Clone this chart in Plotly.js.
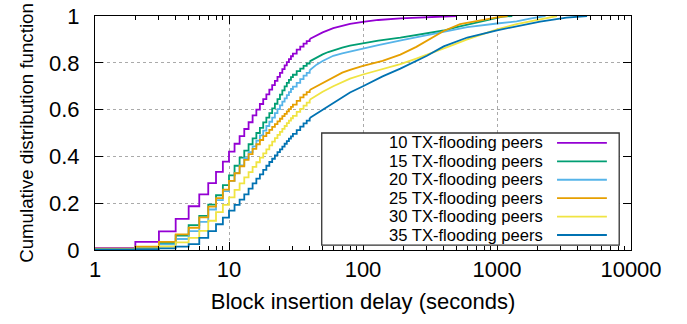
<!DOCTYPE html>
<html>
<head>
<meta charset="utf-8">
<script src="https://cdn.plot.ly/plotly-3.0.1.min.js"></script>
<style>html,body{margin:0;padding:0;background:#fff;}#chart{width:687px;height:324px;}</style>
</head>
<body>
<div id="chart"></div>
<script>
// ---- data ----
const seriesNames = ["10 TX-flooding peers","15 TX-flooding peers","20 TX-flooding peers","25 TX-flooding peers","30 TX-flooding peers","35 TX-flooding peers"];
const seriesColors = ["#9400d3","#009e73","#56b4e9","#e69f00","#f0e442","#0072b2"];

const x10 = [1,2,3,4,5,6,7,8,9,10,11,12,13,14,15,16,17,18,19,20,21,22,23,24,25,26,27,28,29,30,32,34,36,38,40,45,50,60,70,80,100,130,190,300,500];
const y10 = [0.008,0.035,0.08,0.133,0.187,0.238,0.286,0.334,0.378,0.42,0.454,0.487,0.517,0.546,0.575,0.6,0.624,0.645,0.665,0.685,0.705,0.723,0.74,0.757,0.773,0.789,0.803,0.816,0.828,0.839,0.856,0.869,0.882,0.893,0.902,0.918,0.93,0.948,0.958,0.966,0.975,0.983,0.99,0.995,1.0];

const x15 = [1,2,3,4,5,6,7,8,9,10,11,12,13,14,15,16,17,18,19,20,21,22,23,24,25,26,27,28,29,30,32,34,36,38,40,43,46,50,55,60,70,80,100,130,190,250,400,500,650,800,950,1100,1300];
const y15 = [0.005,0.012,0.03,0.062,0.106,0.146,0.194,0.234,0.277,0.319,0.36,0.395,0.425,0.452,0.477,0.5,0.522,0.545,0.566,0.585,0.605,0.625,0.645,0.664,0.682,0.699,0.714,0.727,0.739,0.749,0.764,0.775,0.787,0.797,0.806,0.816,0.826,0.836,0.846,0.854,0.865,0.873,0.884,0.895,0.908,0.918,0.938,0.952,0.968,0.98,0.99,0.997,1.0];

const x20 = [1,2,3,4,5,6,7,8,9,10,11,12,13,14,15,16,17,18,19,20,21,22,23,24,25,26,27,28,29,30,32,34,36,38,40,45,50,55,60,70,80,100,130,200,300,400,600,1000,1400,1800,2300];
const y20 = [0.004,0.008,0.024,0.047,0.081,0.12,0.173,0.213,0.252,0.295,0.33,0.362,0.392,0.418,0.443,0.467,0.49,0.51,0.53,0.548,0.566,0.585,0.602,0.618,0.634,0.648,0.662,0.675,0.688,0.698,0.714,0.73,0.745,0.757,0.768,0.792,0.808,0.82,0.83,0.84,0.848,0.862,0.876,0.898,0.918,0.933,0.952,0.968,0.977,0.99,1.0];

const x25 = [1,2,3,4,5,6,7,8,9,10,11,12,13,14,15,16,17,18,19,20,21,22,23,24,25,26,27,28,29,30,32,34,36,38,40,45,50,60,70,80,100,140,190,250,300,400,530,750,1000,1200];
const y25 = [0.006,0.014,0.035,0.067,0.095,0.139,0.185,0.222,0.258,0.295,0.328,0.358,0.385,0.41,0.432,0.452,0.47,0.487,0.5,0.513,0.526,0.538,0.55,0.561,0.572,0.582,0.592,0.602,0.612,0.621,0.637,0.652,0.664,0.675,0.684,0.7,0.714,0.74,0.758,0.77,0.787,0.808,0.835,0.868,0.895,0.936,0.965,0.982,0.994,1.0];

const x30 = [1,2,3,4,5,6,7,8,9,10,11,12,13,14,15,16,17,18,19,20,21,22,23,24,25,26,27,28,29,30,32,34,36,38,40,45,50,60,70,80,100,130,190,250,335,450,600,800,1000,1400,2100,2800];
const y30 = [0.004,0.006,0.015,0.033,0.052,0.082,0.125,0.162,0.193,0.225,0.257,0.285,0.31,0.333,0.355,0.375,0.395,0.413,0.43,0.447,0.463,0.478,0.492,0.505,0.518,0.53,0.542,0.553,0.563,0.573,0.59,0.603,0.617,0.63,0.642,0.66,0.676,0.7,0.718,0.732,0.75,0.768,0.794,0.818,0.844,0.872,0.9,0.924,0.943,0.965,0.986,1.0];

const x35 = [1,2,3,4,5,6,7,8,9,10,11,12,13,14,15,16,17,18,19,20,21,22,23,24,25,26,27,28,29,30,32,34,36,38,40,45,50,60,70,80,100,140,190,300,400,600,1000,1400,2100,3300,4700];
const y35 = [0.003,0.004,0.007,0.014,0.025,0.052,0.081,0.11,0.138,0.168,0.193,0.215,0.238,0.262,0.285,0.305,0.323,0.342,0.36,0.376,0.39,0.404,0.418,0.43,0.442,0.454,0.465,0.476,0.486,0.496,0.512,0.527,0.541,0.553,0.564,0.583,0.598,0.627,0.655,0.673,0.7,0.742,0.775,0.83,0.87,0.908,0.939,0.957,0.976,0.993,1.0];

const xTickVals = [1,10,100,1000,10000];
const xTickText = ["1","10","100","1000","10000"];
const xTitle = "Block insertion delay (seconds)";
const yTitle = "Cumulative distribution function";

// ---- build ----
const STEP_END = 40; // step look at small delays, smooth continuation beyond
const xs = [x10,x15,x20,x25,x30,x35];
const ys = [y10,y15,y20,y25,y30,y35];
const traces = [];
xs.forEach((x,i)=>{
  const k = x.indexOf(STEP_END);
  traces.push({type:"scatter", mode:"lines", x:x.slice(0,k+1), y:ys[i].slice(0,k+1), name:seriesNames[i],
    legendgroup:"g"+i, line:{color:seriesColors[i], width:1.8, shape:"hv"}, showlegend:false});
  traces.push({type:"scatter", mode:"lines", x:x.slice(k), y:ys[i].slice(k), name:seriesNames[i],
    legendgroup:"g"+i, line:{color:seriesColors[i], width:1.8, shape:"linear"}, showlegend:false});
});

const minorVals = [];
for (const d of [1,10,100,1000]) for (let k=2;k<=9;k++) minorVals.push(k*d);

const font = "Liberation Sans, Arial, Helvetica, sans-serif";

// gnuplot-style key (text right-aligned, sample on the right)
const shapes = [{type:"rect", xref:"paper", yref:"paper", x0:0.423, x1:0.978, y0:0.021, y1:0.5,
  line:{color:"#333", width:1.3}, fillcolor:"#fff", layer:"above"}];
const annotations = [];
const rowTop = 0.4576, rowStep = 0.0787;
seriesNames.forEach((n,i)=>{
  const yy = rowTop - i*rowStep;
  shapes.push({type:"line", xref:"paper", yref:"paper", x0:0.862, x1:0.955, y0:yy, y1:yy,
    line:{color:seriesColors[i], width:1.8}, layer:"above"});
  annotations.push({xref:"paper", yref:"paper", x:0.8396, y:yy, xanchor:"right", yanchor:"middle",
    text:n, showarrow:false, font:{family:font, size:16.6, color:"#000"}});
});

const layout = {
  width:687, height:324,
  margin:{l:95, r:56, t:16, b:74},
  paper_bgcolor:"#fff", plot_bgcolor:"#fff",
  font:{family:font, color:"#000"},
  showlegend:false,
  xaxis:{
    type:"log", range:[0,4],
    showline:true, linecolor:"#000", linewidth:1, mirror:"allticks",
    ticks:"inside", ticklen:8, tickcolor:"#000", tickwidth:1,
    tickvals:xTickVals, ticktext:xTickText,
    tickfont:{family:font, size:22, color:"#000"},
    showgrid:true, gridcolor:"#aaa", griddash:"dot", gridwidth:1,
    zeroline:false,
    minor:{tickmode:"array", tickvals:minorVals, ticks:"inside", ticklen:4, tickcolor:"#000", showgrid:false},
    title:{text:xTitle, font:{family:font, size:22, color:"#000"}, standoff:12}
  },
  yaxis:{
    range:[0,1], dtick:0.2, tick0:0,
    showline:true, linecolor:"#000", linewidth:1, mirror:"allticks",
    ticks:"inside", ticklen:8, tickcolor:"#000", tickwidth:1,
    tickfont:{family:font, size:22, color:"#000"},
    ticklabelstandoff:10,
    showgrid:true, gridcolor:"#aaa", griddash:"dot", gridwidth:1,
    zeroline:false,
    title:{text:yTitle, font:{family:font, size:18.7, color:"#000"}, standoff:10}
  },
  shapes:shapes,
  annotations:annotations
};

Plotly.newPlot("chart", traces, layout, {displayModeBar:false, staticPlot:true});
</script>
</body>
</html>
